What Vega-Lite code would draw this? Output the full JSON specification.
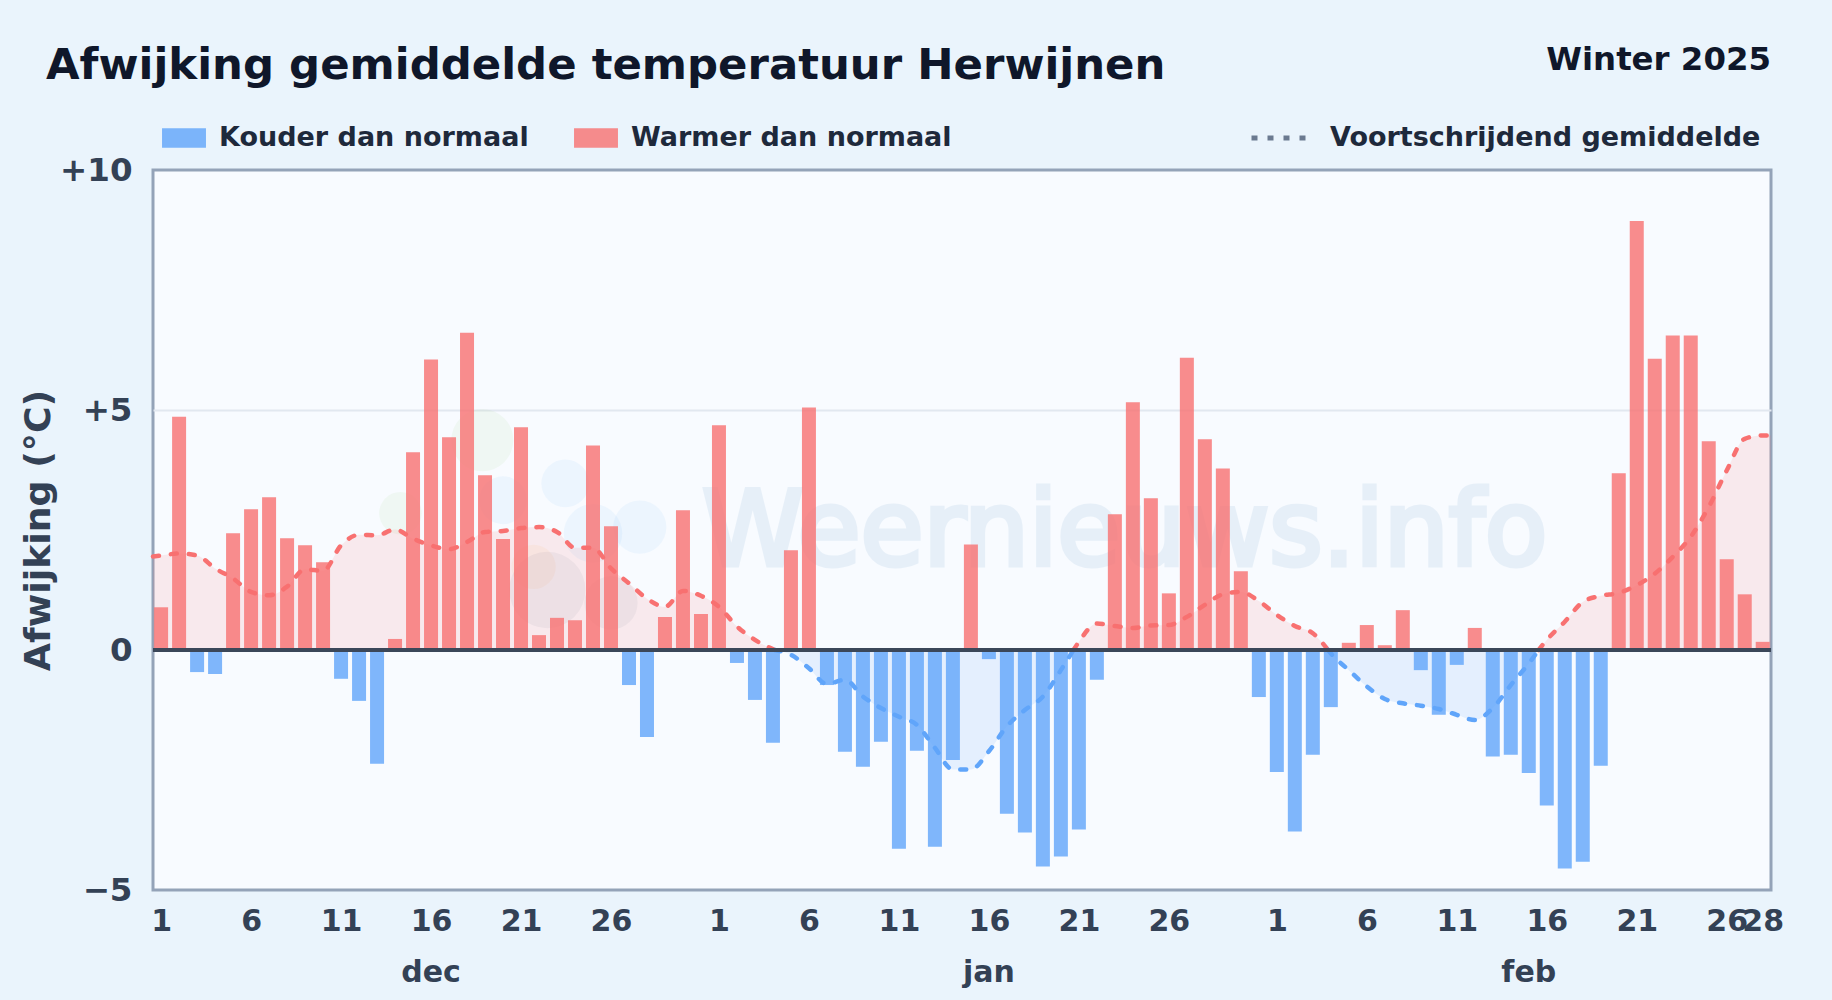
{
"$schema":"https://vega.github.io/schema/vega-lite/v6.json",
"width":1618,"height":720,
"autosize":{"type":"none"},
"padding":{"left":153,"top":170,"right":61,"bottom":110},
"background":"#eaf4fc",
"title":{"text":"Afwijking gemiddelde temperatuur Herwijnen","anchor":"start","frame":"group","dx":-107,"offset":-44,"fontSize":43.4,"font":"DejaVu Sans","fontWeight":"bold","color":"#0f172a"},
"view":{"fill":"#f8fbff","stroke":"#94a3b8","strokeWidth":3},
"config":{"font":"DejaVu Sans"},
"datasets":{
"bars":[
{"day":1,"dev":0.89},{"day":2,"dev":4.86},{"day":3,"dev":-0.46},{"day":4,"dev":-0.5},{"day":5,"dev":2.43},{"day":6,"dev":2.93},{"day":7,"dev":3.18},{"day":8,"dev":2.33},{"day":9,"dev":2.18},{"day":10,"dev":1.83},{"day":11,"dev":-0.6},{"day":12,"dev":-1.06},{"day":13,"dev":-2.37},{"day":14,"dev":0.23},{"day":15,"dev":4.12},{"day":16,"dev":6.05},{"day":17,"dev":4.43},{"day":18,"dev":6.61},{"day":19,"dev":3.64},{"day":20,"dev":2.31},{"day":21,"dev":4.64},{"day":22,"dev":0.31},{"day":23,"dev":0.67},{"day":24,"dev":0.62},{"day":25,"dev":4.26},{"day":26,"dev":2.58},{"day":27,"dev":-0.73},{"day":28,"dev":-1.81},{"day":29,"dev":0.69},{"day":30,"dev":2.91},{"day":31,"dev":0.75},
{"day":32,"dev":4.68},{"day":33,"dev":-0.27},{"day":34,"dev":-1.04},{"day":35,"dev":-1.93},{"day":36,"dev":2.08},{"day":37,"dev":5.05},{"day":38,"dev":-0.73},{"day":39,"dev":-2.12},{"day":40,"dev":-2.43},{"day":41,"dev":-1.91},{"day":42,"dev":-4.14},{"day":43,"dev":-2.1},{"day":44,"dev":-4.1},{"day":45,"dev":-2.29},{"day":46,"dev":2.2},{"day":47,"dev":-0.19},{"day":48,"dev":-3.41},{"day":49,"dev":-3.8},{"day":50,"dev":-4.51},{"day":51,"dev":-4.3},{"day":52,"dev":-3.74},{"day":53,"dev":-0.62},{"day":54,"dev":2.83},{"day":55,"dev":5.16},{"day":56,"dev":3.16},{"day":57,"dev":1.18},{"day":58,"dev":6.09},{"day":59,"dev":4.39},{"day":60,"dev":3.78},{"day":61,"dev":1.64},{"day":62,"dev":-0.98},
{"day":63,"dev":-2.54},{"day":64,"dev":-3.78},{"day":65,"dev":-2.18},{"day":66,"dev":-1.19},{"day":67,"dev":0.15},{"day":68,"dev":0.52},{"day":69,"dev":0.1},{"day":70,"dev":0.83},{"day":71,"dev":-0.42},{"day":72,"dev":-1.35},{"day":73,"dev":-0.31},{"day":74,"dev":0.46},{"day":75,"dev":-2.22},{"day":76,"dev":-2.18},{"day":77,"dev":-2.56},{"day":78,"dev":-3.24},{"day":79,"dev":-4.55},{"day":80,"dev":-4.41},{"day":81,"dev":-2.41},{"day":82,"dev":3.68},{"day":83,"dev":8.94},{"day":84,"dev":6.07},{"day":85,"dev":6.55},{"day":86,"dev":6.55},{"day":87,"dev":4.35},{"day":88,"dev":1.89},{"day":89,"dev":1.16},{"day":90,"dev":0.17}
],
"ma":[
{"seg":"w1","day":0.55,"ma":1.95},{"seg":"w1","day":1,"ma":1.97},{"seg":"w1","day":2,"ma":2.01},{"seg":"w1","day":3,"ma":1.97},{"seg":"w1","day":4,"ma":1.7},{"seg":"w1","day":5,"ma":1.49},{"seg":"w1","day":6,"ma":1.21},{"seg":"w1","day":7,"ma":1.14},{"seg":"w1","day":8,"ma":1.32},{"seg":"w1","day":9,"ma":1.68},{"seg":"w1","day":10,"ma":1.65},{"seg":"w1","day":11,"ma":2.18},{"seg":"w1","day":12,"ma":2.4},{"seg":"w1","day":13,"ma":2.39},{"seg":"w1","day":14,"ma":2.51},{"seg":"w1","day":15,"ma":2.32},{"seg":"w1","day":16,"ma":2.18},{"seg":"w1","day":17,"ma":2.1},{"seg":"w1","day":18,"ma":2.25},{"seg":"w1","day":19,"ma":2.46},{"seg":"w1","day":20,"ma":2.48},{"seg":"w1","day":21,"ma":2.54},{"seg":"w1","day":22,"ma":2.56},{"seg":"w1","day":23,"ma":2.46},{"seg":"w1","day":24,"ma":2.13},{"seg":"w1","day":25,"ma":2.13},{"seg":"w1","day":26,"ma":1.7},{"seg":"w1","day":27,"ma":1.39},{"seg":"w1","day":28,"ma":1.07},{"seg":"w1","day":29,"ma":0.9},{"seg":"w1","day":30,"ma":1.23},{"seg":"w1","day":31,"ma":1.13},{"seg":"w1","day":32,"ma":0.9},{"seg":"w1","day":33,"ma":0.49},{"seg":"w1","day":34,"ma":0.21},{"seg":"w1","day":35.1,"ma":0},
{"seg":"c1","day":35.1,"ma":0},{"seg":"c1","day":36,"ma":-0.1},{"seg":"c1","day":37,"ma":-0.38},{"seg":"c1","day":38,"ma":-0.71},{"seg":"c1","day":39,"ma":-0.62},{"seg":"c1","day":40,"ma":-0.97},{"seg":"c1","day":41,"ma":-1.21},{"seg":"c1","day":42,"ma":-1.39},{"seg":"c1","day":43,"ma":-1.56},{"seg":"c1","day":44,"ma":-2.04},{"seg":"c1","day":45,"ma":-2.49},{"seg":"c1","day":46,"ma":-2.49},{"seg":"c1","day":47,"ma":-2.11},{"seg":"c1","day":48,"ma":-1.59},{"seg":"c1","day":49,"ma":-1.25},{"seg":"c1","day":50,"ma":-0.97},{"seg":"c1","day":51,"ma":-0.42},{"seg":"c1","day":51.7,"ma":0},
{"seg":"w2","day":51.7,"ma":0},{"seg":"w2","day":52,"ma":0.17},{"seg":"w2","day":53,"ma":0.55},{"seg":"w2","day":54,"ma":0.5},{"seg":"w2","day":55,"ma":0.46},{"seg":"w2","day":56,"ma":0.51},{"seg":"w2","day":57,"ma":0.52},{"seg":"w2","day":58,"ma":0.69},{"seg":"w2","day":59,"ma":0.94},{"seg":"w2","day":60,"ma":1.16},{"seg":"w2","day":61,"ma":1.21},{"seg":"w2","day":62,"ma":1.02},{"seg":"w2","day":63,"ma":0.73},{"seg":"w2","day":64,"ma":0.5},{"seg":"w2","day":65,"ma":0.35},{"seg":"w2","day":65.85,"ma":0},
{"seg":"c2","day":65.85,"ma":0},{"seg":"c2","day":66,"ma":-0.07},{"seg":"c2","day":67,"ma":-0.42},{"seg":"c2","day":68,"ma":-0.76},{"seg":"c2","day":69,"ma":-1.02},{"seg":"c2","day":70,"ma":-1.11},{"seg":"c2","day":71,"ma":-1.16},{"seg":"c2","day":72,"ma":-1.23},{"seg":"c2","day":73,"ma":-1.35},{"seg":"c2","day":74,"ma":-1.46},{"seg":"c2","day":75,"ma":-1.21},{"seg":"c2","day":76,"ma":-0.73},{"seg":"c2","day":77,"ma":-0.28},{"seg":"c2","day":77.55,"ma":0},
{"seg":"w3","day":77.55,"ma":0},{"seg":"w3","day":78,"ma":0.21},{"seg":"w3","day":79,"ma":0.59},{"seg":"w3","day":80,"ma":1},{"seg":"w3","day":81,"ma":1.13},{"seg":"w3","day":82,"ma":1.19},{"seg":"w3","day":83,"ma":1.35},{"seg":"w3","day":84,"ma":1.59},{"seg":"w3","day":85,"ma":1.94},{"seg":"w3","day":86,"ma":2.36},{"seg":"w3","day":87,"ma":2.98},{"seg":"w3","day":88,"ma":3.74},{"seg":"w3","day":89,"ma":4.4},{"seg":"w3","day":90,"ma":4.47},{"seg":"w3","day":90.46,"ma":4.47}
],
"logo":[
{"part":"sun","day":18.85,"v":4.37,"area":3850},
{"part":"sun","day":14.3,"v":2.85,"area":1810},
{"part":"cloud","day":23.46,"v":3.47,"area":2290},
{"part":"cloud","day":20.0,"v":3.12,"area":2290},
{"part":"cloud","day":27.6,"v":2.56,"area":2830},
{"part":"cloud","day":25.0,"v":2.43,"area":3420},
{"part":"glow","day":21.7,"v":1.73,"area":1960},
{"part":"rain","day":22.46,"v":1.25,"area":5810},
{"part":"rain","day":26.0,"v":0.98,"area":2830}
],
"months":[{"month":"dec","day":16},{"month":"jan","day":47},{"month":"feb","day":77}]
},
"encoding":{
"x":{"field":"day","type":"quantitative","scale":{"domain":[0.55,90.46],"nice":false,"zero":false,"padding":0},
"axis":{"title":null,"grid":false,"domain":false,"ticks":false,"values":[1,6,11,16,21,26,32,37,42,47,52,57,63,68,73,78,83,88,90],
"labelExpr":"datum.value>62?datum.value-62:(datum.value>31?datum.value-31:datum.value)","labelFontSize":30,"labelFontWeight":"bold","labelColor":"#334155","labelPadding":16,"labelOverlap":false,"labelFlush":false,"labelBound":false}}
},
"layer":[
{"data":{"name":"logo"},"mark":{"type":"circle","opacity":0.08,"clip":true},
"encoding":{"y":{"field":"v","type":"quantitative","scale":{"domain":[-5,10],"nice":false,"zero":false},
"axis":{"title":"Afwijking (°C)","titleFontSize":36.3,"titleFontWeight":"bold","titleColor":"#334155","titlePadding":2,"values":[-5,0,5,10],
"labelExpr":"datum.value>0?'+'+datum.value:(datum.value<0?'−'+abs(datum.value):'0')","labelFontSize":32.5,"labelFontWeight":"bold","labelColor":"#334155","labelPadding":21,"domain":false,"ticks":false,"grid":true,"gridColor":"#e2e8f0","gridWidth":2,"gridOpacity":{"condition":{"test":"datum.value===5","value":1},"value":0},"labelFlush":false,"labelBound":false}},
"fill":{"field":"part","type":"nominal","legend":null,"scale":{"domain":["sun","cloud","glow","rain"],"range":["#86c96a","#60b4f0","#f9b44a","#64748b"]}},
"size":{"field":"area","type":"quantitative","legend":null,"scale":null}}},
{"data":{"values":[{"wm":"Weernieuws.info","day":54.55}]},
"mark":{"type":"text","fontSize":102.5,"fontWeight":"normal","align":"center","baseline":"alphabetic","color":"#2472b4","stroke":"#2472b4","strokeWidth":5,"opacity":0.08},
"encoding":{"text":{"field":"wm"},"y":{"datum":1.77}}},
{"data":{"name":"ma"},"transform":[{"calculate":"indexof(datum.seg,'w')==0?'Warmer dan normaal':'Kouder dan normaal'","as":"series"}],
"mark":{"type":"area","interpolate":"monotone","opacity":0.13},
"encoding":{"y":{"field":"ma","type":"quantitative"},"y2":{"datum":0},"detail":{"field":"seg"},
"color":{"field":"series","type":"nominal","scale":{"domain":["Kouder dan normaal","Warmer dan normaal"],"range":["#60a5fa","#f87171"]}}}},
{"data":{"name":"ma"},"transform":[{"calculate":"indexof(datum.seg,'w')==0?'Warmer dan normaal':'Kouder dan normaal'","as":"series"}],
"mark":{"type":"line","interpolate":"monotone","strokeWidth":4.5,"strokeCap":"round","strokeDash":[6,12]},
"encoding":{"y":{"field":"ma","type":"quantitative"},"detail":{"field":"seg"},
"color":{"field":"series","type":"nominal"}}},
{"data":{"name":"ma"},"transform":[{"filter":"datum.seg==='w3'"},{"calculate":"'Voortschrijdend gemiddelde'","as":"avg"}],
"mark":{"type":"line","opacity":0,"strokeWidth":4},
"encoding":{"y":{"field":"ma","type":"quantitative"},
"strokeDash":{"field":"avg","type":"nominal","scale":{"range":[[6,10]]},
"legend":{"title":null,"orient":"none","legendX":1096,"legendY":-62,"symbolType":"stroke","symbolSize":3025,"symbolStrokeWidth":5,"symbolStrokeColor":"#6b7a90","labelFontSize":27,"labelFontWeight":"bold","labelColor":"#1e293b","labelOffset":21,"labelLimit":600,"encoding":{"symbols":{"opacity":{"value":1}}}}}}},
{"data":{"name":"bars"},"transform":[{"calculate":"datum.dev<0?'Kouder dan normaal':'Warmer dan normaal'","as":"series"}],
"mark":{"type":"bar","size":14,"opacity":0.8},
"encoding":{"y":{"field":"dev","type":"quantitative"},
"color":{"field":"series","type":"nominal","legend":{"title":null,"orient":"none","legendX":9,"legendY":-54,"direction":"horizontal","columns":2,"columnPadding":42,"symbolType":"M-1,-0.43H1V0.43H-1Z","symbolSize":1800,"labelFontSize":27,"labelFontWeight":"bold","labelColor":"#1e293b","labelOffset":13,"labelLimit":600,"encoding":{"symbols":{"opacity":{"value":0.8}}}}}}},
{"mark":{"type":"rule","color":"#3b4759","strokeWidth":4},"data":{"values":[{"zero":0}]},"encoding":{"x":{"value":0},"x2":{"value":1618},"y":{"datum":0}}},
{"data":{"values":[{"label":"Winter 2025","day":90.46}]},"mark":{"type":"text","fontSize":32.4,"fontWeight":"bold","align":"right","baseline":"alphabetic","color":"#0f172a"},
"encoding":{"text":{"field":"label"},"y":{"datum":12.08}}},
{"data":{"name":"months"},"mark":{"type":"text","fontSize":30,"fontWeight":"bold","align":"center","baseline":"alphabetic","color":"#334155"},
"encoding":{"text":{"field":"month"},"y":{"datum":-6.92}}}
]
}
